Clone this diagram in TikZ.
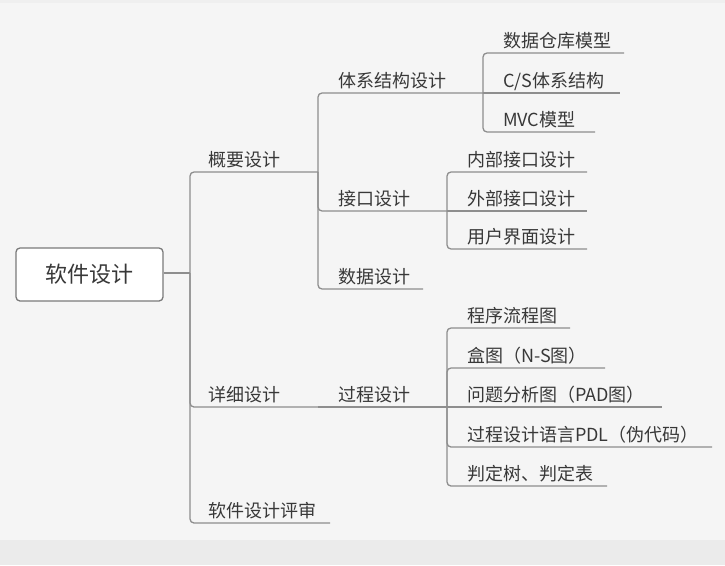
\documentclass[tikz,border=0pt]{standalone}
\usepackage{fontspec}
\setmainfont{Noto Sans CJK SC}
\definecolor{bg}{HTML}{F5F5F5}
\definecolor{band}{HTML}{EBEBEB}
\definecolor{ln}{HTML}{8E8E8E}
\definecolor{bx}{HTML}{7A7A7A}
\definecolor{tx}{HTML}{383838}
\begin{document}
\begin{tikzpicture}[x=1pt,y=-1pt,
  conn/.style={draw=ln,line width=1.3pt,rounded corners=4pt},
  topic/.style={anchor=base west,inner sep=0pt,text=tx,font=\fontsize{18}{18}\selectfont},
  rootbox/.style={draw=bx,fill=white,rounded corners=4pt,line width=1.3pt,
    minimum width=147pt,minimum height=53pt,inner sep=0pt,text=tx,
    font=\fontsize{22}{22}\selectfont}]
\fill[bg] (0,0) rectangle (725,565);
\fill[band] (0,540) rectangle (725,565);
\fill[band!60!bg] (0,0) rectangle (725,3);
\useasboundingbox (0,0) rectangle (725,565);

% root
\node[rootbox] (root) at (89.5,274.5) {软件设计};

% fork / line-end coordinates
\coordinate (f0) at (190,273);
\coordinate (e-gy) at (318,172);
\coordinate (e-xx) at (318,407);
\coordinate (e-ps) at (330,523);
\coordinate (e-tx) at (483,93);
\coordinate (e-jk) at (447,211);
\coordinate (e-sj) at (423,289);
\coordinate (e-gc) at (447,407);
\coordinate (e-a1) at (624,53);
\coordinate (e-a2) at (620,93);
\coordinate (e-a3) at (595,132);
\coordinate (e-b1) at (587,172);
\coordinate (e-b2) at (587,211);
\coordinate (e-b3) at (587,249);
\coordinate (e-c1) at (570,328);
\coordinate (e-c2) at (605,368);
\coordinate (e-c3) at (662,407);
\coordinate (e-c4) at (712,447);
\coordinate (e-c5) at (607,486);

% texts
\node[topic] (gy) at (208,166.5) {概要设计};
\node[topic] (xx) at (208,401.5) {详细设计};
\node[topic] (ps) at (208,517.5) {软件设计评审};
\node[topic] (tx) at (338,87.5) {体系结构设计};
\node[topic] (jk) at (338,205.5) {接口设计};
\node[topic] (sj) at (338,283.5) {数据设计};
\node[topic] (gc) at (338,401.5) {过程设计};
\node[topic] (a1) at (503,47.5) {数据仓库模型};
\node[topic] (a2) at (503,87.5) {C/S体系结构};
\node[topic] (a3) at (503,126.5) {MVC模型};
\node[topic] (b1) at (467,166.5) {内部接口设计};
\node[topic] (b2) at (467,205.5) {外部接口设计};
\node[topic] (b3) at (467,243.5) {用户界面设计};
\node[topic] (c1) at (467,322.5) {程序流程图};
\node[topic] (c2) at (467,362.5) {盒图（N-S图）};
\node[topic] (c3) at (467,401.5) {问题分析图（PAD图）};
\node[topic] (c4) at (467,441.5) {过程设计语言PDL（伪代码）};
\node[topic] (c5) at (467,480.5) {判定树、判定表};

% connectors
\draw[conn] (root.east |- f0) -- (f0);
\draw[conn] (f0) |- (e-gy);
\draw[conn] (f0) |- (e-xx);
\draw[conn] (f0) |- (e-ps);
\draw[conn] (e-gy) |- (e-tx);
\draw[conn] (e-gy) |- (e-jk);
\draw[conn] (e-gy) |- (e-sj);
\draw[conn] (e-xx) -- (e-gc);
\draw[conn] (e-tx) |- (e-a1);
\draw[conn] (e-tx) -- (e-a2);
\draw[conn] (e-tx) |- (e-a3);
\draw[conn] (e-jk) |- (e-b1);
\draw[conn] (e-jk) -- (e-b2);
\draw[conn] (e-jk) |- (e-b3);
\draw[conn] (e-gc) |- (e-c1);
\draw[conn] (e-gc) |- (e-c2);
\draw[conn] (e-gc) -- (e-c3);
\draw[conn] (e-gc) |- (e-c4);
\draw[conn] (e-gc) |- (e-c5);
\end{tikzpicture}
\end{document}
